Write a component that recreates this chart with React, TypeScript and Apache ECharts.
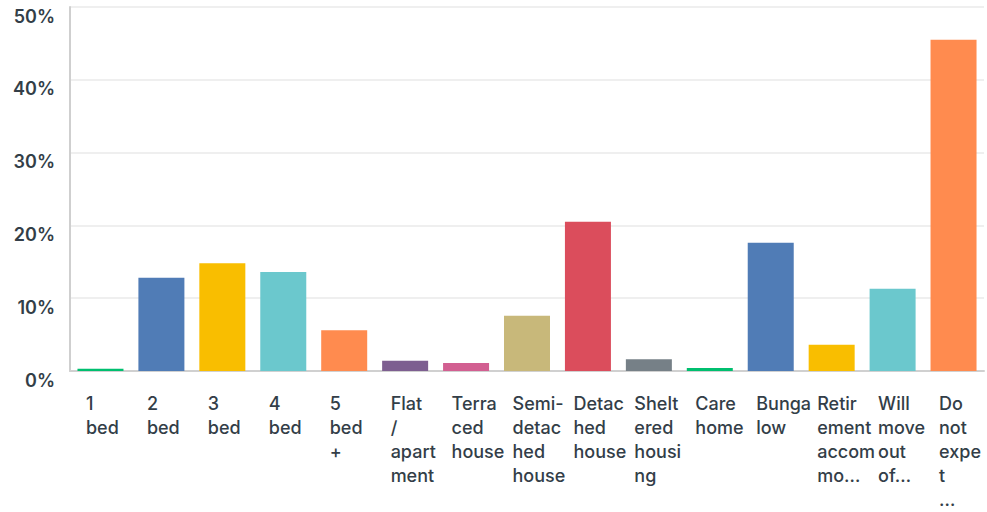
import React, { useEffect, useRef } from "react";
import * as echarts from "echarts";

const categories = [
  "1\nbed",
  "2\nbed",
  "3\nbed",
  "4\nbed",
  "5\nbed\n+",
  "Flat\n/\napart\nment",
  "Terra\nced\nhouse",
  "Semi-\ndetac\nhed\nhouse",
  "Detac\nhed\nhouse",
  "Shelt\nered\nhousi\nng",
  "Care\nhome",
  "Bunga\nlow",
  "Retir\nement\naccom\nmo…",
  "Will\nmove\nout\nof…",
  "Do\nnot\nexpe\nt\n…",
];

const values = [0.3, 12.8, 14.8, 13.6, 5.6, 1.4, 1.1, 7.6, 20.5, 1.6, 0.4, 17.6, 3.6, 11.3, 45.5];

const colors = [
  "#00bf6f",
  "#507cb6",
  "#f9be00",
  "#6bc8cd",
  "#ff8b4f",
  "#7d5e90",
  "#d25f91",
  "#c8b87a",
  "#db4d5c",
  "#768087",
  "#00bf6f",
  "#507cb6",
  "#f9be00",
  "#6bc8cd",
  "#ff8b4f",
];

const yTicks = [0, 10, 20, 30, 40, 50];

const FONT = "Inter, 'Open Sans', sans-serif";
const TEXT = "#333e48";

export default function App() {
  const ref = useRef<HTMLDivElement>(null);
  useEffect(() => {
    document.body.style.margin = "0";
    const chart = echarts.init(ref.current!, null, { renderer: "svg" });
    chart.setOption({
      animation: false,
      grid: { left: 70, right: 3, top: 7, bottom: 141, containLabel: false },
      xAxis: {
        type: "category",
        data: categories,
        axisTick: { show: false },
        axisLine: { show: true, lineStyle: { color: "#d0d0d0", width: 2 } },
        axisLabel: {
          interval: 0,
          margin: 20,
          width: 29,
          align: "center",
          formatter: (v: string) => `{a|${v}}`,
          rich: {
            a: {
              align: "left",
              fontFamily: FONT,
              fontSize: 18,
              fontWeight: 500,
              lineHeight: 24,
              color: TEXT,
            },
          },
        },
      },
      yAxis: {
        type: "value",
        min: 0,
        max: 50,
        interval: 10,
        axisLine: { show: true, lineStyle: { color: "#cfcfcf", width: 2 } },
        axisTick: { show: false },
        splitLine: { lineStyle: { color: "#efefef", width: 2 } },
        axisLabel: {
          margin: 15,
          verticalAlign: "top",
          fontFamily: FONT,
          fontSize: 18,
          fontWeight: 600,
          color: TEXT,
          formatter: (v: number) => (yTicks.includes(v) ? `${v}%` : ""),
        },
      },
      series: [
        {
          type: "bar",
          barWidth: 46,
          data: values.map((v, i) => ({ value: v, itemStyle: { color: colors[i] } })),
        },
      ],
    });
    return () => chart.dispose();
  }, []);
  return <div ref={ref} style={{ width: 987, height: 512, position: "absolute", left: 0, top: 0 }} />;
}
